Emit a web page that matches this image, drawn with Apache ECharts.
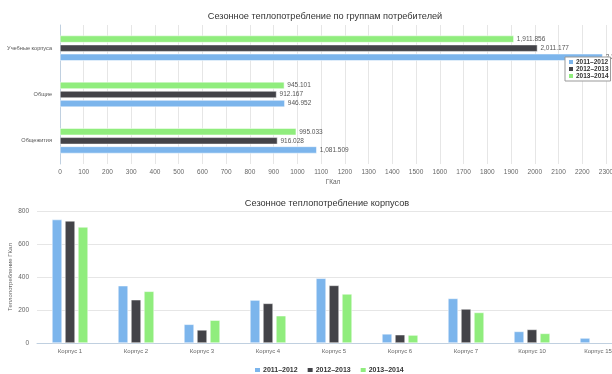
<!DOCTYPE html>
<html>
<head>
<meta charset="utf-8">
<script src="https://cdn.jsdelivr.net/npm/echarts@6/dist/echarts.min.js"></script>
<style>
  html, body { margin: 0; padding: 0; background: #fff; }
  #chart { width: 612px; height: 374px; }
</style>
</head>
<body>
<div id="chart"></div>
<script>
// top chart: consumer groups
const groupNames = ['Учебные корпуса', 'Общие', 'Общежития']
const group2011 = [2286.0, 946.952, 1081.509]
const group2012 = [2011.177, 912.167, 916.028]
const group2013 = [1911.856, 945.101, 995.033]
const groupTicks = [0, 2300, 100]

// bottom chart: buildings
const buildings = ['Корпус 1', 'Корпус 2', 'Корпус 3', 'Корпус 4', 'Корпус 5', 'Корпус 6', 'Корпус 7', 'Корпус 10', 'Корпус 15']
const build2011 = [748, 347, 113, 260, 392, 55, 270, 70, 30]
const build2012 = [740, 262, 79, 240, 349, 50, 206, 82, null]
const build2013 = [703, 313, 138, 165, 297, 48, 185, 58, null]
const buildTicks = [0, 800, 200]

const seasons = ['2011–2012', '2012–2013', '2013–2014']
const colors = ['#7cb5ec', '#434348', '#90ed7d']

const font = 'Liberation Sans'
const fmt = (v) => v.toLocaleString('en-US', { minimumFractionDigits: 3, maximumFractionDigits: 3 })

const chart = echarts.init(document.getElementById('chart'))

const barLabel = {
  show: true,
  position: 'right',
  distance: 3,
  fontSize: 6.5,
  fontFamily: font,
  color: '#555',
  formatter: (p) => fmt(p.value),
}

// inverse category axis puts the first series on top, so go newest first
const topData = [group2011, group2012, group2013]
const topSeries = [2, 1, 0].map((i) => ({
  name: seasons[i],
  type: 'bar',
  xAxisIndex: 0,
  yAxisIndex: 0,
  data: topData[i],
  barWidth: 7,
  barGap: '30%',
  itemStyle: { color: colors[i], borderColor: '#fff', borderWidth: 0.5 },
  label: barLabel,
}))

const bottomSeries = [build2011, build2012, build2013].map((data, i) => ({
  name: seasons[i],
  type: 'bar',
  xAxisIndex: 1,
  yAxisIndex: 1,
  data,
  barWidth: 10,
  barGap: '30%',
  itemStyle: { color: colors[i], borderColor: '#fff', borderWidth: 0.5 },
}))

const titleStyle = { fontSize: 9.2, fontWeight: 'normal', color: '#333', fontFamily: font }

chart.setOption({
  animation: false,
  color: colors,
  textStyle: { fontFamily: font },
  title: [
    {
      text: 'Сезонное теплопотребление по группам потребителей',
      left: 320,
      textAlign: 'center',
      top: 7,
      textStyle: titleStyle,
    },
    {
      text: 'Сезонное теплопотребление корпусов',
      left: 322,
      textAlign: 'center',
      top: 194,
      textStyle: titleStyle,
    },
  ],
  legend: [
    {
      data: seasons,
      orient: 'vertical',
      left: 565,
      top: 57,
      itemWidth: 6,
      itemHeight: 6,
      itemGap: -1,
      padding: [1, 2],
      icon: 'rect',
      backgroundColor: '#fff',
      borderColor: '#999',
      borderWidth: 1,
      z: 10,
      textStyle: { fontSize: 6.5, lineHeight: 6, fontWeight: 'bold', color: '#333', fontFamily: font, padding: [0, 0, 0, -3] },
    },
    {
      data: seasons,
      left: 248,
      top: 361,
      itemWidth: 7,
      itemHeight: 6,
      itemGap: 8,
      icon: 'rect',
      textStyle: { fontSize: 7, fontWeight: 'bold', color: '#333', fontFamily: font, padding: [0, 0, 0, -3] },
    },
  ],
  grid: [
    { left: 60, top: 25, width: 546, height: 139, outerBoundsMode: 'none' },
    { left: 37, top: 211, width: 594, height: 132, outerBoundsMode: 'none' },
  ],
  xAxis: [
    {
      gridIndex: 0,
      type: 'value',
      min: groupTicks[0],
      max: groupTicks[1],
      interval: groupTicks[2],
      name: 'ГКал',
      nameLocation: 'middle',
      nameGap: 15,
      nameTextStyle: { fontSize: 6.5, color: '#666', fontFamily: font },
      axisLine: { show: false },
      axisTick: { show: false },
      axisLabel: { fontSize: 6.5, color: '#666', margin: 5, fontFamily: font, formatter: (v) => String(v) },
      splitLine: { lineStyle: { color: '#e6e6e6' } },
    },
    {
      gridIndex: 1,
      type: 'category',
      data: buildings,
      axisLine: { lineStyle: { color: '#c0d0e0' } },
      axisTick: { lineStyle: { color: '#c0d0e0' }, length: 4 },
      axisLabel: { fontSize: 6, color: '#666', margin: 5, fontFamily: font },
    },
  ],
  yAxis: [
    {
      gridIndex: 0,
      type: 'category',
      data: groupNames,
      inverse: true,
      axisLine: { lineStyle: { color: '#c0d0e0' } },
      axisTick: { lineStyle: { color: '#c0d0e0' }, length: 4 },
      axisLabel: { fontSize: 5.6, color: '#555', margin: 8, fontFamily: font },
    },
    {
      gridIndex: 1,
      type: 'value',
      min: buildTicks[0],
      max: buildTicks[1],
      interval: buildTicks[2],
      name: 'Теплопотребление ГКал',
      nameLocation: 'middle',
      nameGap: 24,
      nameMoveOverlap: false,
      nameTextStyle: { fontSize: 6, color: '#666', fontFamily: font },
      axisLine: { show: false },
      axisTick: { show: false },
      axisLabel: { fontSize: 6.5, color: '#666', margin: 8, fontFamily: font },
      splitLine: { lineStyle: { color: '#e6e6e6' } },
    },
  ],
  series: [...topSeries, ...bottomSeries],
})

window.addEventListener('resize', () => chart.resize())
</script>
</body>
</html>
